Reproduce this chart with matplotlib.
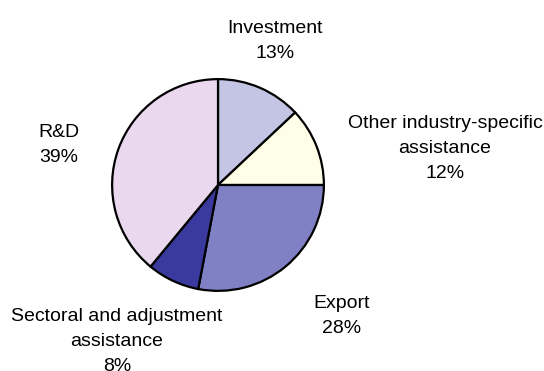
import matplotlib
matplotlib.use("Agg")
import matplotlib.pyplot as plt

labels = ["Investment", "Other industry-specific\nassistance", "Export",
          "Sectoral and adjustment\nassistance", "R&D"]
shares = [13, 12, 28, 8, 39]
colors = ["#c4c4e4", "#ffffe8", "#8080c4", "#3a3a9e", "#ead8ee"]

# label anchor: x centre and first-line baseline, in pixels from top-left
label_pos = [(275, 33), (445, 128), (342, 308), (117, 321), (59, 137)]
line_step = 25  # px between baselines

plt.rcParams["font.family"] = ["Liberation Sans", "DejaVu Sans"]

W, H = 544, 371
fig = plt.figure(figsize=(W / 100, H / 100), dpi=100)
cx, cy, r = 218, 185, 108
ax = fig.add_axes([(cx - r) / W, 1 - (cy + r) / H, 2 * r / W, 2 * r / H])
ax.pie(shares, colors=colors, startangle=90, counterclock=False, radius=1,
       wedgeprops=dict(edgecolor="black", linewidth=1.6))
ax.set_xlim(-1.02, 1.02)
ax.set_ylim(-1.02, 1.02)
ax.axis("off")

for lab, v, (x, y) in zip(labels, shares, label_pos):
    s = f"{lab}\n{v}%"
    # matplotlib anchors a multi-line 'baseline' on the last line
    y_last = y + (s.count("\n")) * line_step
    fig.text(x / W, 1 - y_last / H, s, ha="center", va="baseline",
             multialignment="center", fontsize=14, linespacing=1.62)

fig.savefig("out.png", dpi=100)
